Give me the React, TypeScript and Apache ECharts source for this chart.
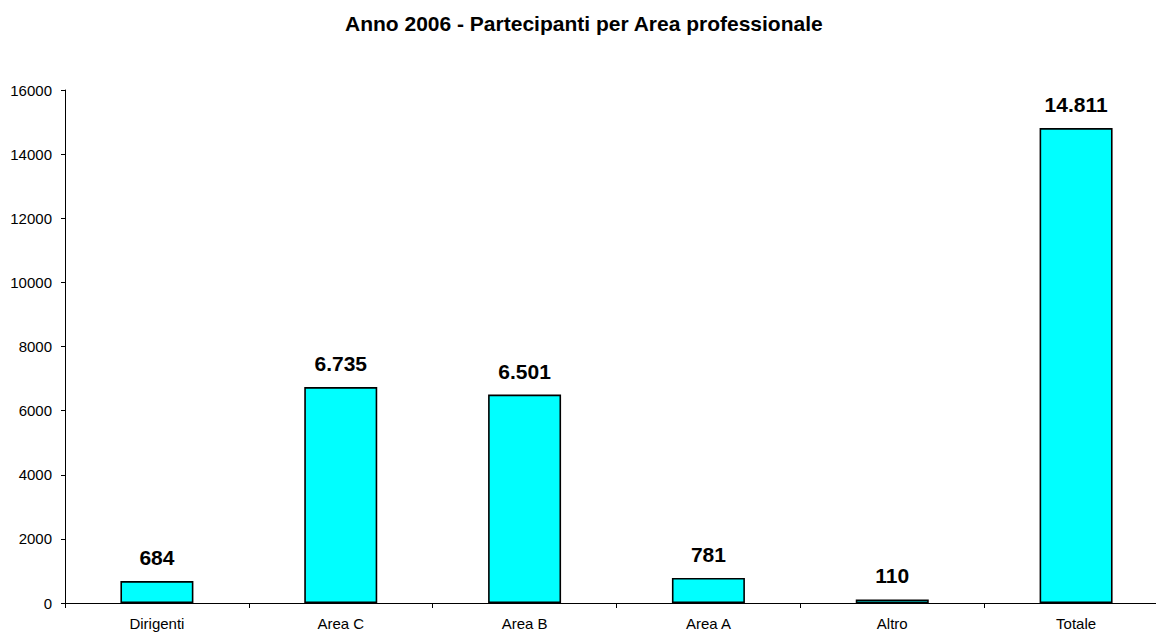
import React, { useEffect, useRef } from "react";
import * as echarts from "echarts";

const categories = ["Dirigenti", "Area C", "Area B", "Area A", "Altro", "Totale"];
const values = [684, 6735, 6501, 781, 110, 14811];
const titleText = "Anno 2006 - Partecipanti per Area professionale";
const yMin = 0;
const yMax = 16000;
const yStep = 2000;

const FONT = "'Liberation Sans', Arial, sans-serif";

function fmtIt(v: number): string {
  return String(v).replace(/\B(?=(\d{3})+(?!\d))/g, ".");
}

export default function App() {
  const ref = useRef<HTMLDivElement>(null);
  useEffect(() => {
    if (!ref.current) return;
    const chart = echarts.init(ref.current, undefined, { renderer: "svg" });
    chart.setOption({
      animation: false,
      backgroundColor: "#ffffff",
      title: {
        text: titleText,
        left: 345,
        top: 13,
        padding: 0,
        textStyle: { fontFamily: FONT, fontSize: 21, fontWeight: "bold", color: "#000" },
      },
      grid: {
        left: 65,
        right: -12,
        top: 90,
        bottom: 30,
        containLabel: false,
        outerBoundsMode: "none",
      },
      xAxis: {
        type: "category",
        data: categories,
        boundaryGap: true,
        axisLine: { show: true, lineStyle: { color: "#000", width: 1 } },
        axisTick: { show: true, alignWithLabel: false, length: 5, lineStyle: { color: "#000" } },
        axisLabel: { fontFamily: FONT, fontSize: 15, color: "#000", margin: 13, interval: 0 },
        splitLine: { show: false },
      },
      yAxis: {
        type: "value",
        min: yMin,
        max: yMax,
        interval: yStep,
        axisLine: { show: true, lineStyle: { color: "#000", width: 1 } },
        axisTick: { show: true, length: 4, lineStyle: { color: "#000" } },
        axisLabel: {
          fontFamily: FONT,
          fontSize: 15,
          color: "#000",
          margin: 13,
          formatter: (v: number) => String(v),
        },
        splitLine: { show: false },
      },
      series: [
        {
          type: "bar",
          data: values,
          barWidth: 73,
          itemStyle: { color: "#00FFFF", borderColor: "#000", borderWidth: 1.6 },
          label: {
            show: true,
            position: "top",
            distance: 13,
            fontFamily: FONT,
            fontSize: 21,
            fontWeight: "bold",
            color: "#000",
            formatter: (p: any) => fmtIt(p.value),
          },
        },
      ],
    });
    return () => chart.dispose();
  }, []);
  return (
    <div
      ref={ref}
      style={{ position: "fixed", left: 0, top: 0, width: 1156, height: 633, background: "#fff" }}
    />
  );
}
